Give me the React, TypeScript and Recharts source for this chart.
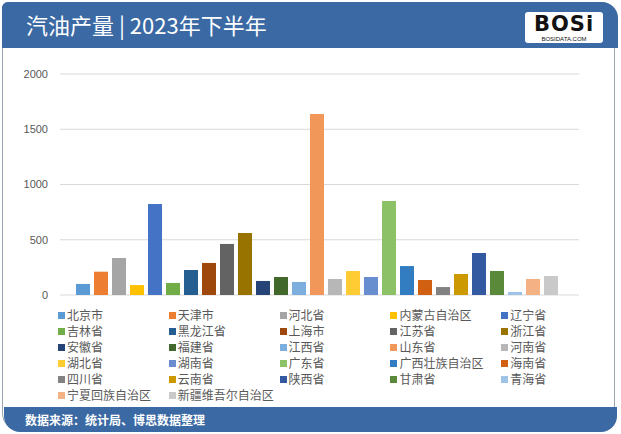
import React from "react";
import { BarChart, Bar, XAxis, YAxis, CartesianGrid } from "recharts";

const provinces = [
  "北京市", "天津市", "河北省", "内蒙古自治区", "辽宁省",
  "吉林省", "黑龙江省", "上海市", "江苏省", "浙江省",
  "安徽省", "福建省", "江西省", "山东省", "河南省",
  "湖北省", "湖南省", "广东省", "广西壮族自治区", "海南省",
  "四川省", "云南省", "陕西省", "甘肃省", "青海省",
  "宁夏回族自治区", "新疆维吾尔自治区",
];

const output = [
  100, 211, 335, 90, 824,
  109, 226, 290, 462, 561,
  127, 163, 118, 1638, 145,
  217, 163, 851, 262, 136,
  72, 190, 380, 217, 27,
  145, 172,
];

const colors = [
  "#5B9BD5", "#ED7D31", "#A5A5A5", "#FFC000", "#4472C4",
  "#70AD47", "#255E91", "#9E480E", "#636363", "#997300",
  "#264478", "#43682B", "#7CAFDD", "#F1975A", "#B7B7B7",
  "#FFCD33", "#698ED0", "#8CC168", "#327DC2", "#D26012",
  "#828282", "#CC9A00", "#335AA1", "#5A8A39", "#9DC3E6",
  "#F4B183", "#C9C9C9",
];

const yTicks = [0, 500, 1000, 1500, 2000];

const row: Record<string, string | number> = { name: "2023年下半年" };
provinces.forEach((p, i) => {
  row[p] = output[i];
});
const data = [row];

const BLUE = "#3a69a3";
const FONT = "'Noto Sans CJK SC', 'Noto Sans', sans-serif";

const Logo = () => (
  <div
    style={{
      position: "absolute",
      left: 525,
      top: 12,
      width: 78,
      height: 31,
      background: "#fff",
      borderRadius: 3,
      textAlign: "center",
      lineHeight: 1,
    }}
  >
    <div
      style={{
        fontFamily: "'DejaVu Sans', sans-serif",
        fontWeight: 900,
        fontSize: 21,
        letterSpacing: 1,
        color: "#111",
        marginTop: 2,
      }}
    >
      BOSi
    </div>
    <div style={{ fontFamily: "'Liberation Sans', sans-serif", fontSize: 6, color: "#111", marginTop: 1 }}>
      BOSIDATA.COM
    </div>
  </div>
);

const LegendBlock = () => (
  <div style={{ position: "absolute", left: 58, top: 307, width: 560 }}>
    {provinces.map((p, i) => (
      <div
        key={p}
        style={{
          position: "absolute",
          left: (i % 5) * 110.8,
          top: Math.floor(i / 5) * 16,
          display: "flex",
          alignItems: "center",
          fontSize: 12,
          lineHeight: "16px",
          color: "#595959",
          whiteSpace: "nowrap",
        }}
      >
        <span style={{ width: 7, height: 7, background: colors[i], marginRight: 2, display: "inline-block" }} />
        {p}
      </div>
    ))}
  </div>
);

export default function App() {
  return (
    <div
      style={{
        position: "fixed",
        left: 0,
        top: 0,
        width: 621,
        height: 434,
        background: "#fff",
        fontFamily: FONT,
        overflow: "hidden",
      }}
    >
      {/* card frame */}
      <div
        style={{
          position: "absolute",
          left: 2,
          top: 2,
          width: 613,
          height: 428,
          border: "1px solid #9aa6b4",
          borderRadius: "6px 16px 16px 16px",
          boxSizing: "border-box",
        }}
      />
      <div
        style={{
          position: "absolute",
          left: 2,
          top: 2,
          width: 616,
          height: 46,
          background: BLUE,
          borderRadius: "6px 16px 0 0",
        }}
      />
      <div
        style={{
          position: "absolute",
          left: 26,
          top: 11,
          color: "#fff",
          fontSize: 22,
          lineHeight: "26px",
        }}
      >
        汽油产量 | 2023年下半年
      </div>
      <Logo />

      <div style={{ position: "absolute", left: 0, top: 0 }}>
        <BarChart
          width={621}
          height={434}
          data={data}
          margin={{ top: 74, right: 42, bottom: 139, left: 0 }}
          barCategoryGap={16}
          barGap={4}
        >
          <CartesianGrid vertical={false} stroke="#d9d9d9" />
          <XAxis dataKey="name" hide />
          <YAxis
            width={60}
            domain={[0, 2000]}
            ticks={yTicks}
            axisLine={false}
            tickLine={false}
            tickSize={6}
            tickMargin={6}
            tick={{ fill: "#595959", fontSize: 11, fontFamily: "'Liberation Sans', sans-serif" }}
          />
          {provinces.map((p, i) => (
            <Bar key={p} dataKey={p} fill={colors[i]} isAnimationActive={false} />
          ))}
        </BarChart>
      </div>

      <LegendBlock />

      <div
        style={{
          position: "absolute",
          left: 4,
          top: 407,
          width: 613,
          height: 25,
          background: BLUE,
          borderRadius: "0 0 16px 16px",
        }}
      />
      <div
        style={{
          position: "absolute",
          left: 25,
          top: 412,
          color: "#fff",
          fontSize: 12,
          fontWeight: 700,
          lineHeight: "16px",
        }}
      >
        数据来源：统计局、博思数据整理
      </div>
    </div>
  );
}
